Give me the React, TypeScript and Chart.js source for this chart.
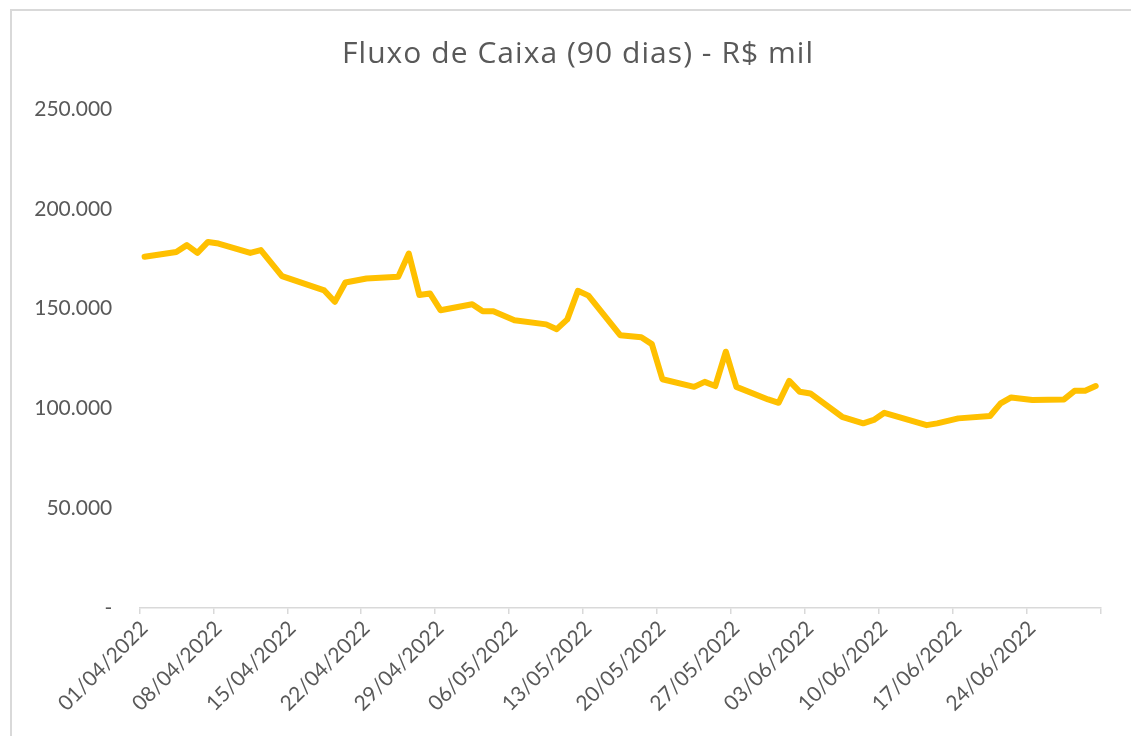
import React, { useEffect, useRef } from "react";
import { Chart, registerables } from "chart.js";

Chart.register(...registerables);

const TITLE = "Fluxo de Caixa (90 dias) - R$ mil";
const START_DATE = "01/04/2022";
const AXIS_DAYS = 91;
const TICK_STEP_DAYS = 7;

const dates = [
  "01/04/2022", "04/04/2022", "05/04/2022", "06/04/2022", "07/04/2022", "08/04/2022",
  "11/04/2022", "12/04/2022", "14/04/2022", "18/04/2022", "19/04/2022", "20/04/2022",
  "22/04/2022", "25/04/2022", "26/04/2022", "27/04/2022", "28/04/2022", "29/04/2022",
  "02/05/2022", "03/05/2022", "04/05/2022", "06/05/2022", "09/05/2022", "10/05/2022",
  "11/05/2022", "12/05/2022", "13/05/2022", "16/05/2022", "18/05/2022", "19/05/2022",
  "20/05/2022", "23/05/2022", "24/05/2022", "25/05/2022", "26/05/2022", "27/05/2022",
  "30/05/2022", "31/05/2022", "01/06/2022", "02/06/2022", "03/06/2022", "06/06/2022",
  "08/06/2022", "09/06/2022", "10/06/2022", "14/06/2022", "15/06/2022", "17/06/2022",
  "20/06/2022", "21/06/2022", "22/06/2022", "24/06/2022", "27/06/2022", "28/06/2022",
  "29/06/2022", "30/06/2022",
];

const fluxo = [
  176000, 178400, 181800, 177900, 183400, 182600,
  177900, 179300, 166300, 159100, 153400, 163100,
  165100, 165900, 177600, 156800, 157600, 149200,
  152200, 148700, 148700, 144200, 142100, 139700,
  144600, 158900, 156500, 136700, 135600, 132200,
  114600, 110800, 113300, 111200, 128400, 110800,
  104500, 102800, 113800, 108300, 107500, 95800,
  92500, 94200, 97800, 91600, 92500, 95000,
  96200, 102500, 105500, 104200, 104500, 108800,
  108800, 111200,
];

const yTicks = [0, 50000, 100000, 150000, 200000, 250000];

function parseDate(s: string): number {
  const [d, m, y] = s.split("/").map(Number);
  return Date.UTC(y, m - 1, d);
}
const DAY = 86400000;
const startMs = parseDate(START_DATE);
function dayIndex(s: string): number {
  return Math.round((parseDate(s) - startMs) / DAY);
}
function fmtDate(ms: number): string {
  const dt = new Date(ms);
  const dd = String(dt.getUTCDate()).padStart(2, "0");
  const mm = String(dt.getUTCMonth() + 1).padStart(2, "0");
  return `${dd}/${mm}/${dt.getUTCFullYear()}`;
}
function fmtNum(v: number): string {
  if (v === 0) return "-";
  return String(Math.round(v)).replace(/\B(?=(\d{3})+(?!\d))/g, ".");
}

const FONT = "Lato, 'Open Sans', sans-serif";
const TITLE_FONT = "30px 'Open Sans', Lato, sans-serif";
const TEXT = "#595959";
const TITLE_LEFT = 342;
const TITLE_RIGHT = 813;
const TITLE_BASELINE = 63;

const titlePlugin = {
  id: "spacedTitle",
  afterDraw(chart: any) {
    const ctx = chart.ctx as CanvasRenderingContext2D;
    ctx.save();
    ctx.font = TITLE_FONT;
    ctx.fillStyle = TEXT;
    ctx.textAlign = "left";
    ctx.textBaseline = "alphabetic";
    const w = ctx.measureText(TITLE).width;
    const spacing = Math.max(0, (TITLE_RIGHT - TITLE_LEFT - w) / (TITLE.length - 1));
    (ctx as any).letterSpacing = `${spacing}px`;
    ctx.fillText(TITLE, TITLE_LEFT, TITLE_BASELINE);
    ctx.restore();
  },
};

export default function App() {
  const ref = useRef<HTMLCanvasElement | null>(null);

  useEffect(() => {
    document.body.style.margin = "0";
    if (!ref.current) return;
    const points = dates.map((d, i) => ({ x: dayIndex(d), y: fluxo[i] }));
    const chart = new Chart(ref.current, {
      type: "line",
      plugins: [titlePlugin],
      data: {
        datasets: [
          {
            label: TITLE,
            data: points,
            borderColor: "#FFC000",
            backgroundColor: "#FFC000",
            borderWidth: 6,
            pointRadius: 0,
            borderJoinStyle: "round",
            borderCapStyle: "round",
            tension: 0,
          },
        ],
      },
      options: {
        animation: false,
        responsive: false,
        maintainAspectRatio: false,
        layout: { padding: { left: 0, right: 30, top: 109, bottom: 0 } },
        plugins: {
          legend: { display: false },
          tooltip: { enabled: false },
          title: { display: false },
        },
        scales: {
          x: {
            type: "linear",
            bounds: "data",
            min: -0.5,
            max: AXIS_DAYS - 0.5,
            afterBuildTicks: (scale: any) => {
              const t: { value: number }[] = [];
              for (let d = 0; d < AXIS_DAYS; d += TICK_STEP_DAYS) t.push({ value: d - 0.5 });
              t.push({ value: AXIS_DAYS - 0.5 });
              scale.ticks = t;
            },
            afterFit: (scale: any) => {
              scale.height = 128;
            },
            border: { display: true, color: "#d9d9d9", width: 1.5 },
            grid: {
              drawOnChartArea: false,
              drawTicks: true,
              tickLength: 6,
              color: "#d9d9d9",
              lineWidth: 1.5,
            },
            ticks: {
              autoSkip: false,
              maxRotation: 45,
              minRotation: 45,
              labelOffset: 5,
              padding: 2,
              color: TEXT,
              font: { family: FONT, size: 21 },
              callback: (v: any) => {
                const n = Number(v);
                if (n >= AXIS_DAYS - 1) return "";
                return fmtDate(startMs + (n + 0.5) * DAY);
              },
            },
          },
          y: {
            min: 0,
            max: 250000,
            afterBuildTicks: (scale: any) => {
              scale.ticks = yTicks.map((v) => ({ value: v }));
            },
            afterFit: (scale: any) => {
              scale.width = 139.3;
            },
            border: { display: false },
            grid: { display: false, drawTicks: false },
            ticks: {
              padding: 27,
              color: TEXT,
              font: { family: FONT, size: 21 },
              callback: (v: any) => fmtNum(Number(v)),
            },
          },
        },
      },
    });
    return () => chart.destroy();
  }, []);

  return (
    <div style={{ position: "relative", width: 1131, height: 736, overflow: "hidden", background: "#fff" }}>
      <div
        style={{
          position: "absolute",
          left: 10,
          top: 9,
          width: 1200,
          height: 900,
          borderLeft: "2px solid #d9d9d9",
          borderTop: "2px solid #d9d9d9",
          boxSizing: "border-box",
        }}
      />
      <canvas ref={ref} width={1131} height={736} style={{ position: "absolute", left: 0, top: 0, display: "block" }} />
    </div>
  );
}
